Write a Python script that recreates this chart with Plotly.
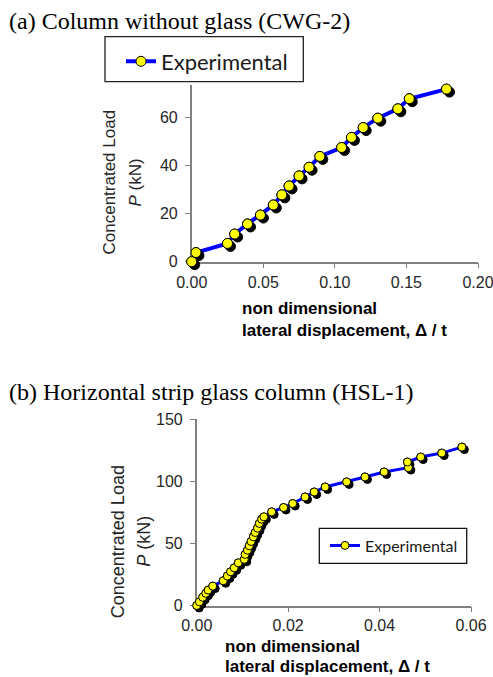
import plotly.graph_objects as go

# ---- data ----
# (a) Column without glass (CWG-2)
disp_a = [0, 0.003, 0.025, 0.030, 0.039, 0.048, 0.057, 0.063, 0.068, 0.075, 0.082,
          0.0895, 0.1047, 0.1116, 0.1198, 0.130, 0.144, 0.152, 0.178]
load_a = [0, 3.8, 7.6, 11.5, 15.7, 19.4, 23.6, 27.8, 31.5, 35.7, 39.3,
          43.8, 47.5, 51.7, 55.8, 59.7, 63.6, 67.8, 71.8]
# (b) Horizontal strip glass column (HSL-1)
disp_b = [0, 0.0006, 0.0013, 0.002, 0.0025, 0.0035, 0.0058, 0.0067, 0.0074, 0.0082,
          0.0091, 0.0104, 0.0106, 0.0111, 0.0115, 0.0119, 0.0124, 0.0128, 0.0133,
          0.0137, 0.0142, 0.0147, 0.0164, 0.019, 0.021, 0.0237, 0.0257, 0.0281,
          0.0328, 0.0368, 0.041, 0.0463, 0.0461, 0.049, 0.0536, 0.058]
load_b = [0, 3, 6.6, 9.8, 12.4, 15.6, 19.9, 23.7, 27.1, 30.3,
          34.3, 37.1, 41.1, 44.5, 48, 51.5, 55.2, 58.7, 62.2,
          66, 69.4, 71.3, 75.3, 78.8, 82, 87.3, 91.3, 95.3,
          99.4, 103.4, 107.4, 110.9, 115.4, 119.4, 122.6, 127.4]

ticks_a_x = [0, 0.05, 0.10, 0.15, 0.20]
ticks_a_y = [0, 20, 40, 60]
ticks_b_x = [0, 0.02, 0.04, 0.06]
ticks_b_y = [0, 50, 100, 150]
series_name = "Experimental"

W, H = 493, 677
def px(x): return x / W
def py(y): return 1 - y / H

# plot areas in pixels
A = dict(x0=191.7, x1=478.0, y0=261.7, y1=85.0, xr=[0, 0.20], yr=[0, 73.5])
B = dict(x0=196.7, x1=471.0, y0=605.5, y1=419.0, xr=[0, 0.06], yr=[0, 150])

fig = go.Figure()

AX_COL = "#808080"
sans = "Liberation Sans, Arial"
serif = "Liberation Serif, Times New Roman"
TICK_FONT = dict(family=sans, size=16, color="#262626")

def add_panel(xs, ys, ids, msize, lw, legend_id):
    base, sh, top = ids
    sfx = lambda k: "" if k == 1 else str(k)
    fig.add_trace(go.Scatter(x=xs, y=ys, mode="lines+markers", name=series_name,
                             line=dict(color="#0000FF", width=lw),
                             marker=dict(size=msize, color="#FFFF00",
                                         line=dict(color="black", width=1)),
                             xaxis="x" + sfx(base), yaxis="y" + sfx(base),
                             cliponaxis=False, legend=legend_id, showlegend=True))
    fig.add_trace(go.Scatter(x=xs, y=ys, mode="markers", showlegend=False,
                             marker=dict(size=msize, color="black",
                                         line=dict(color="black", width=1)),
                             xaxis="x" + sfx(sh), yaxis="y" + sfx(sh),
                             cliponaxis=False, hoverinfo="skip"))
    fig.add_trace(go.Scatter(x=xs, y=ys, mode="markers", showlegend=False,
                             marker=dict(size=msize, color="#FFFF00",
                                         line=dict(color="black", width=1)),
                             xaxis="x" + sfx(top), yaxis="y" + sfx(top),
                             cliponaxis=False))

add_panel(disp_a, load_a, (1, 3, 5), 10, 4, "legend")
add_panel(disp_b, load_b, (2, 4, 6), 8, 3, "legend2")

def axis_pair(P, tx, ty, dx=0, dy=0, visible=True):
    xa = dict(domain=[px(P["x0"] + dx), px(P["x1"] + dx)], range=P["xr"],
              visible=visible, showgrid=False, zeroline=False, automargin=False,
              showline=True, linecolor=AX_COL, linewidth=1.5,
              ticks="outside", ticklen=5, tickcolor=AX_COL, tickwidth=1.2,
              ticklabeloverflow="allow",
              tickvals=tx, tickformat=".2f", tickfont=TICK_FONT, fixedrange=True)
    ya = dict(domain=[py(P["y0"] + dy), py(P["y1"] + dy)], range=P["yr"],
              visible=visible, showgrid=False, zeroline=False, automargin=False,
              showline=True, linecolor=AX_COL, linewidth=1.5,
              ticks="outside", ticklen=5, tickcolor=AX_COL, tickwidth=1.2,
              ticklabelstandoff=4, ticklabeloverflow="allow",
              tickvals=ty, tickfont=TICK_FONT, fixedrange=True)
    return xa, ya

layout = {}
for (P, tx, ty, ids, off) in [(A, ticks_a_x, ticks_a_y, (1, 3, 5), 3.0),
                               (B, ticks_b_x, ticks_b_y, (2, 4, 6), 2.5)]:
    base, sh, top = ids
    for k, dx, dy, vis in [(base, 0, 0, True), (sh, off, off, False), (top, 0, 0, False)]:
        xa, ya = axis_pair(P, tx, ty, dx, dy, vis)
        sx = "" if k == 1 else str(k)
        xa["anchor"] = "y" + sx
        ya["anchor"] = "x" + sx
        layout["xaxis" + sx] = xa
        layout["yaxis" + sx] = ya

fig.update_layout(**layout)

def note(text, x, y, font, xanchor="left", angle=0):
    return dict(text=text, x=px(x), y=py(y), xref="paper", yref="paper",
                xanchor=xanchor, yanchor="middle", showarrow=False,
                textangle=angle, font=font)

ann = []
ann.append(note("(a) Column without glass (CWG-2)", 7, 20.5,
                dict(family=serif, size=24, color="black")))
ann.append(note("(b) Horizontal strip glass column (HSL-1)", 7, 392,
                dict(family=serif, size=24, color="black")))
for (xc1, xc2, yc, fs) in [(109, 135, 182.5, 17), (117.5, 144, 541.7, 18)]:
    f = dict(family=sans, size=fs, color="#262626")
    ann.append(note("Concentrated Load", xc1, yc, f, "center", -90))
    ann.append(note("<i>P</i> (kN)", xc2, yc, f, "center", -90))
for (xl, y1, y2) in [(240, 309, 330), (222.7, 646, 666)]:
    f = dict(family=sans, size=17, color="black")
    ann.append(note("<b>non dimensional</b>", xl, y1, f))
    ann.append(note("<b>lateral displacement, Δ / t</b>", xl, y2, f))

shapes = [
    dict(type="rect", xref="paper", yref="paper", x0=px(105), x1=px(303.3),
         y0=py(81.7), y1=py(36.7), line=dict(color="#222", width=1.3)),
    dict(type="rect", xref="paper", yref="paper", x0=px(319.3), x1=px(466.7),
         y0=py(563.3), y1=py(528.3), line=dict(color="#111", width=1.3)),
]

fig.update_layout(
    width=W, height=H, margin=dict(l=0, r=0, t=0, b=0, pad=0, autoexpand=False),
    paper_bgcolor="white", plot_bgcolor="rgba(0,0,0,0)",
    font=dict(family=sans),
    annotations=ann, shapes=shapes,
    legend=dict(x=px(121), y=py(61.5), xanchor="left", yanchor="middle",
                bgcolor="rgba(0,0,0,0)", borderwidth=0,
                font=dict(family="Lato, Carlito, Calibri", size=22, color="#1a1a1a")),
    legend2=dict(x=px(325), y=py(545.5), xanchor="left", yanchor="middle",
                 bgcolor="rgba(0,0,0,0)", borderwidth=0,
                 font=dict(family="Lato, Carlito, Calibri", size=16, color="#1a1a1a")),
    showlegend=True,
)

fig.write_html("out.html")
